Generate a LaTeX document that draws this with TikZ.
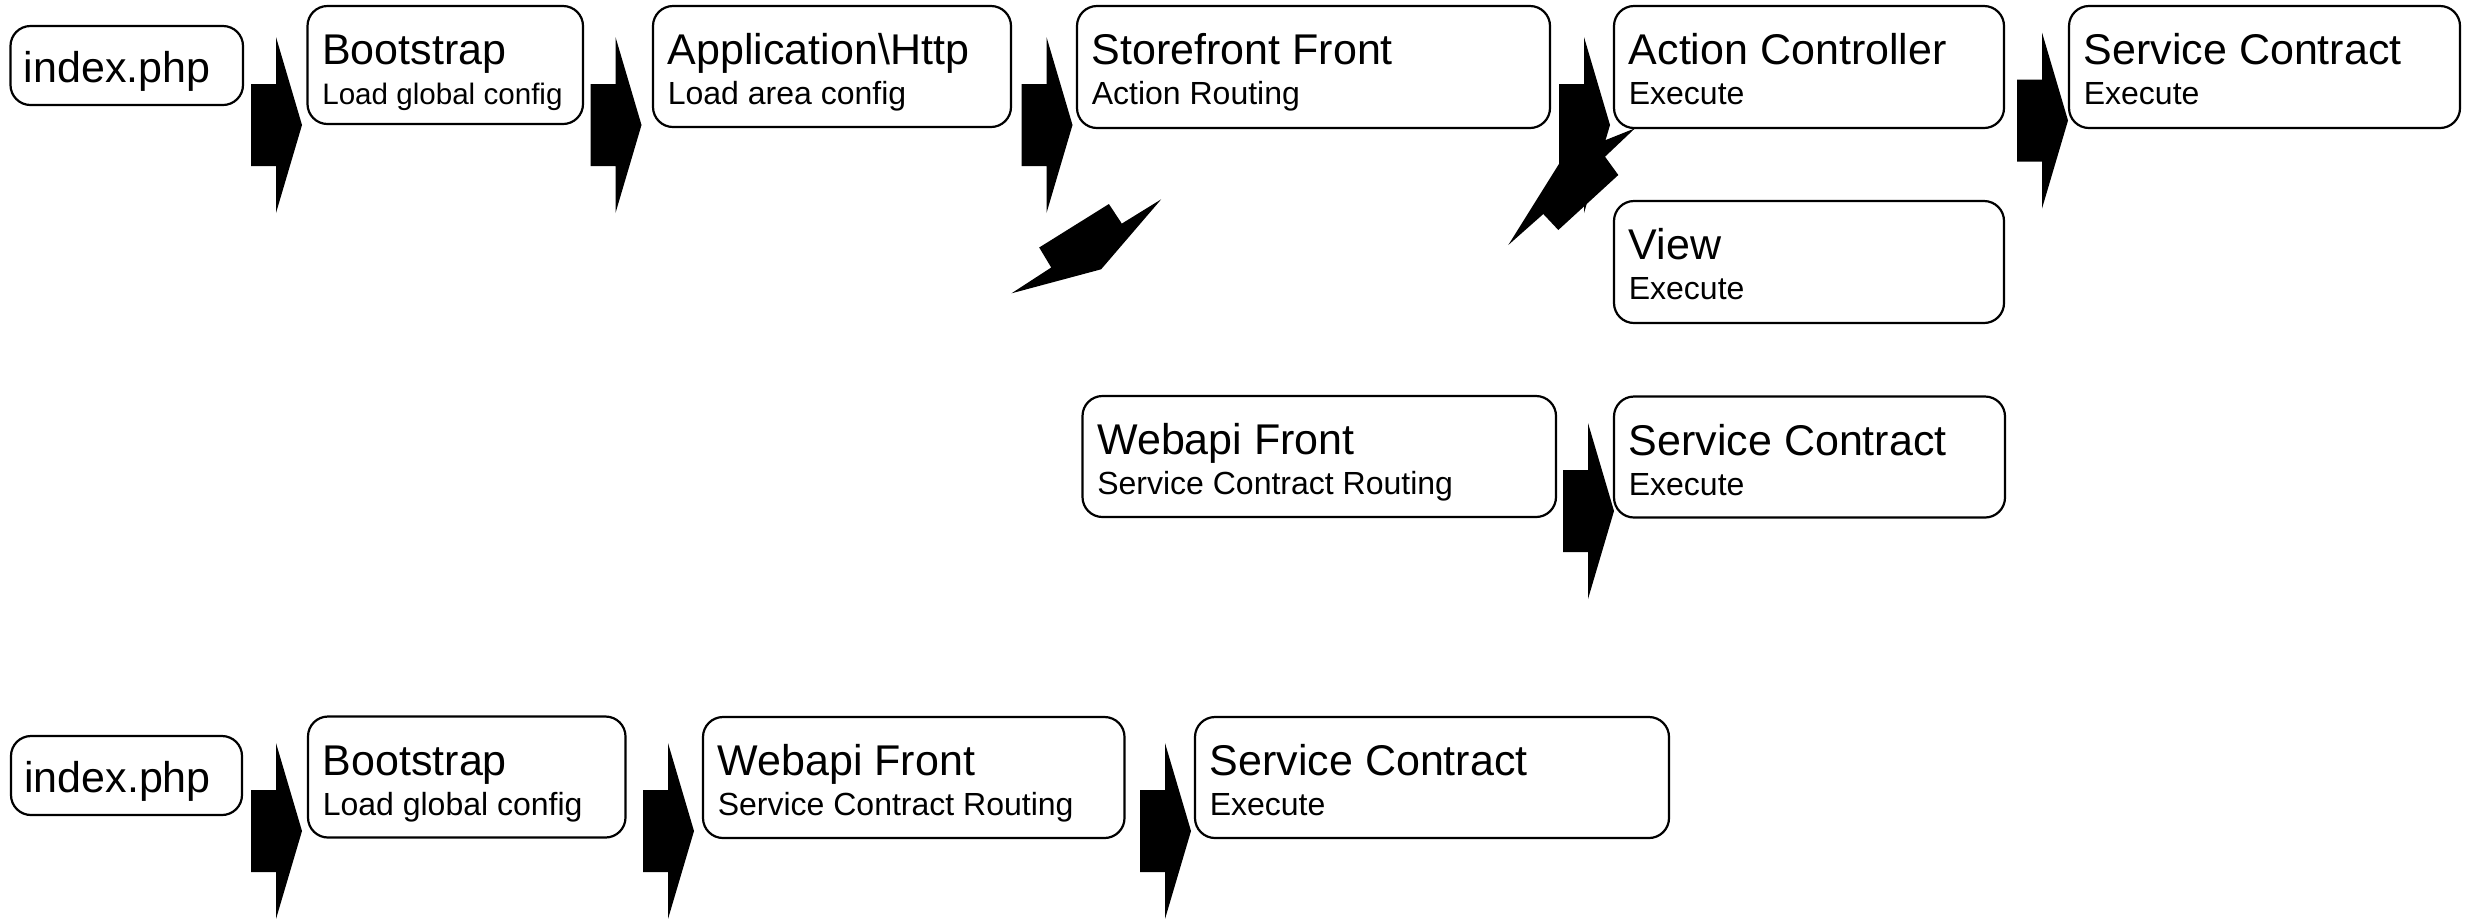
\documentclass[tikz,border=0pt]{standalone}
\usepackage{fontspec}
\setmainfont{Liberation Sans}
\usetikzlibrary{fit}
\tikzset{
  box/.style={draw, line width=1.1pt, rounded corners=10pt, inner sep=0pt},
  big/.style={anchor=base west, inner sep=0pt, font=\fontsize{21.5pt}{25pt}\selectfont},
  small/.style={anchor=base west, inner sep=0pt, font=\fontsize{16pt}{19pt}\selectfont},
  smaller/.style={small, font=\fontsize{14.8pt}{18pt}\selectfont},
}
\newcommand\flowbox[8]{%
  \coordinate (#1-a) at (#2,#3); \coordinate (#1-b) at (#4,#5);
  \node[box, fit=(#1-a)(#1-b)] (#1) {};
  \node[big] (#1-t) at ([shift={(15.5,60)}]#1.north west) {#6};
  \node[#8] (#1-s) at ([shift={(15.5,100)}]#1.north west) {#7};
}
\newcommand\onebox[6]{%
  \coordinate (#1-a) at (#2,#3); \coordinate (#1-b) at (#4,#5);
  \node[box, fit=(#1-a)(#1-b)] (#1) {};
  \node[big] (#1-t) at ([shift={(14,58)}]#1.north west) {#6};
}
\newcommand\blockarrow[1]{%
  \fill (#1) ++(0,-41) -- ++(25,0) -- ++(0,-47) -- ++(26,88) -- ++(-26,88)
    -- ++(0,-47) -- ++(-25,0) -- cycle;
}
\begin{document}
\begin{tikzpicture}[x=0.5pt, y=-0.5pt]
\fill[white] (0,0) rectangle (2466,918);
\useasboundingbox (0,0) rectangle (2466,918);

% row 1
\onebox{idxA}{10.5}{26}{243}{105}{index.php}
\flowbox{bootA}{307.5}{6}{583}{124}{Bootstrap}{Load global config}{smaller}
\flowbox{app}{653}{6}{1011}{127}{Application\textbackslash Http}{Load area config}{small}
\flowbox{store}{1077}{6}{1550}{128}{Storefront Front}{Action Routing}{small}
\flowbox{action}{1614}{6}{2004}{128}{Action Controller}{Execute}{small}
\flowbox{scA}{2069}{6}{2460}{128}{Service Contract}{Execute}{small}
\flowbox{view}{1614}{201}{2004}{323}{View}{Execute}{small}
% middle
\flowbox{webA}{1082.5}{396}{1556}{517}{Webapi Front}{Service Contract Routing}{small}
\flowbox{scB}{1614}{396.5}{2005}{517.5}{Service Contract}{Execute}{small}
% bottom row
\onebox{idxB}{11}{736}{242}{815}{index.php}
\flowbox{bootB}{308}{716.5}{625.5}{837.5}{Bootstrap}{Load global config}{small}
\flowbox{webB}{703}{717}{1124.5}{838}{Webapi Front}{Service Contract Routing}{small}
\flowbox{scC}{1195}{717}{1669}{838}{Service Contract}{Execute}{small}

% block arrows (shaft left-centre points)
\coordinate (a1) at (251,125);
\coordinate (a2) at (590.5,125);
\coordinate (a3) at (1021.5,125);
\coordinate (a4) at (1559,125);
\coordinate (a5) at (2017,120.5);
\coordinate (a6) at (1563,511);
\coordinate (a7) at (251,831);
\coordinate (a8) at (643,831);
\coordinate (a9) at (1140,831);
\foreach \a in {a1,a2,a3,a4,a5,a6,a7,a8,a9} {\blockarrow{\a}}

% distorted diagonal arrows
\fill (1011.5,293.3) -- (1051.2,267.5) -- (1039.2,247.5) -- (1108.9,204)
  -- (1121.8,223.6) -- (1161.2,199.3) -- (1101.1,269.3) -- cycle;
\fill (1508.3,245) -- (1543.3,214) -- (1558.3,230) -- (1618.3,175)
  -- (1605,156.7) -- (1635,128.3) -- (1563.3,157) -- cycle;
\end{tikzpicture}
\end{document}
